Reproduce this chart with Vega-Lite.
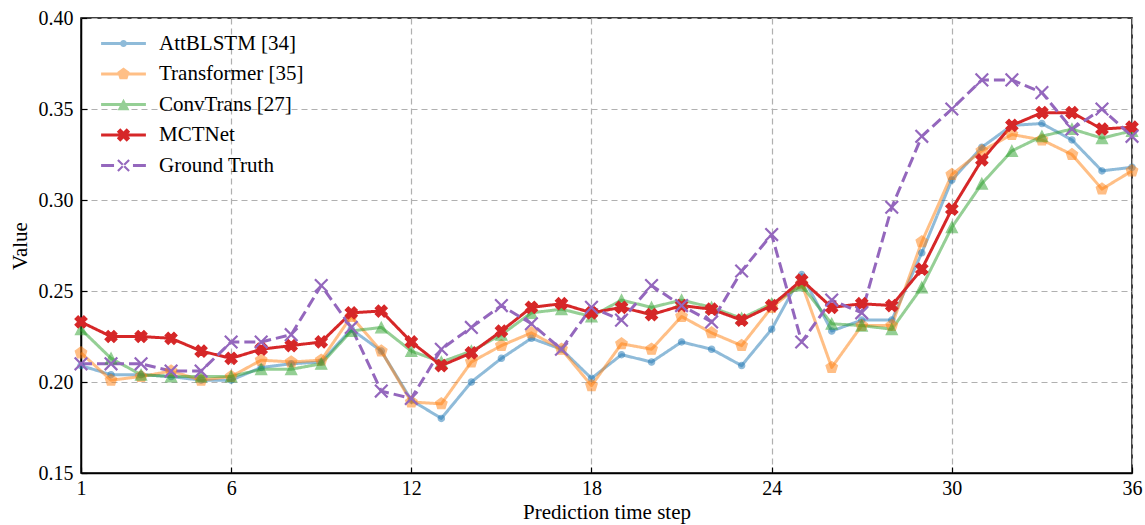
{
  "$schema": "https://vega.github.io/schema/vega-lite/v6.json",
  "width": 1051,
  "height": 455,
  "autosize": {"type": "none"},
  "padding": {"left": 81, "top": 18, "right": 13, "bottom": 52},
  "background": "white",
  "data": {
    "values": [
      {"step": 1, "AttBLSTM": 0.209, "Transformer": 0.216, "ConvTrans": 0.229, "MCTNet": 0.233, "GroundTruth": 0.210},
      {"step": 2, "AttBLSTM": 0.204, "Transformer": 0.201, "ConvTrans": 0.213, "MCTNet": 0.225, "GroundTruth": 0.210},
      {"step": 3, "AttBLSTM": 0.204, "Transformer": 0.203, "ConvTrans": 0.204, "MCTNet": 0.225, "GroundTruth": 0.210},
      {"step": 4, "AttBLSTM": 0.203, "Transformer": 0.206, "ConvTrans": 0.203, "MCTNet": 0.224, "GroundTruth": 0.206},
      {"step": 5, "AttBLSTM": 0.201, "Transformer": 0.201, "ConvTrans": 0.203, "MCTNet": 0.217, "GroundTruth": 0.206},
      {"step": 6, "AttBLSTM": 0.201, "Transformer": 0.203, "ConvTrans": 0.203, "MCTNet": 0.213, "GroundTruth": 0.222},
      {"step": 7, "AttBLSTM": 0.208, "Transformer": 0.212, "ConvTrans": 0.207, "MCTNet": 0.218, "GroundTruth": 0.222},
      {"step": 8, "AttBLSTM": 0.210, "Transformer": 0.211, "ConvTrans": 0.207, "MCTNet": 0.220, "GroundTruth": 0.226},
      {"step": 9, "AttBLSTM": 0.211, "Transformer": 0.212, "ConvTrans": 0.210, "MCTNet": 0.222, "GroundTruth": 0.253},
      {"step": 10, "AttBLSTM": 0.229, "Transformer": 0.236, "ConvTrans": 0.228, "MCTNet": 0.238, "GroundTruth": 0.230},
      {"step": 11, "AttBLSTM": 0.217, "Transformer": 0.217, "ConvTrans": 0.230, "MCTNet": 0.239, "GroundTruth": 0.195},
      {"step": 12, "AttBLSTM": 0.190, "Transformer": 0.189, "ConvTrans": 0.217, "MCTNet": 0.222, "GroundTruth": 0.191},
      {"step": 13, "AttBLSTM": 0.180, "Transformer": 0.188, "ConvTrans": 0.211, "MCTNet": 0.209, "GroundTruth": 0.218},
      {"step": 14, "AttBLSTM": 0.200, "Transformer": 0.211, "ConvTrans": 0.217, "MCTNet": 0.216, "GroundTruth": 0.230},
      {"step": 15, "AttBLSTM": 0.213, "Transformer": 0.220, "ConvTrans": 0.226, "MCTNet": 0.228, "GroundTruth": 0.242},
      {"step": 16, "AttBLSTM": 0.224, "Transformer": 0.227, "ConvTrans": 0.238, "MCTNet": 0.241, "GroundTruth": 0.232},
      {"step": 17, "AttBLSTM": 0.218, "Transformer": 0.218, "ConvTrans": 0.240, "MCTNet": 0.243, "GroundTruth": 0.218},
      {"step": 18, "AttBLSTM": 0.202, "Transformer": 0.198, "ConvTrans": 0.236, "MCTNet": 0.238, "GroundTruth": 0.241},
      {"step": 19, "AttBLSTM": 0.215, "Transformer": 0.221, "ConvTrans": 0.245, "MCTNet": 0.241, "GroundTruth": 0.234},
      {"step": 20, "AttBLSTM": 0.211, "Transformer": 0.218, "ConvTrans": 0.241, "MCTNet": 0.237, "GroundTruth": 0.253},
      {"step": 21, "AttBLSTM": 0.222, "Transformer": 0.236, "ConvTrans": 0.245, "MCTNet": 0.242, "GroundTruth": 0.242},
      {"step": 22, "AttBLSTM": 0.218, "Transformer": 0.227, "ConvTrans": 0.241, "MCTNet": 0.240, "GroundTruth": 0.233},
      {"step": 23, "AttBLSTM": 0.209, "Transformer": 0.220, "ConvTrans": 0.235, "MCTNet": 0.234, "GroundTruth": 0.261},
      {"step": 24, "AttBLSTM": 0.229, "Transformer": 0.241, "ConvTrans": 0.243, "MCTNet": 0.242, "GroundTruth": 0.281},
      {"step": 25, "AttBLSTM": 0.259, "Transformer": 0.254, "ConvTrans": 0.253, "MCTNet": 0.256, "GroundTruth": 0.222},
      {"step": 26, "AttBLSTM": 0.228, "Transformer": 0.208, "ConvTrans": 0.232, "MCTNet": 0.241, "GroundTruth": 0.245},
      {"step": 27, "AttBLSTM": 0.234, "Transformer": 0.231, "ConvTrans": 0.231, "MCTNet": 0.243, "GroundTruth": 0.238},
      {"step": 28, "AttBLSTM": 0.234, "Transformer": 0.231, "ConvTrans": 0.229, "MCTNet": 0.242, "GroundTruth": 0.296},
      {"step": 29, "AttBLSTM": 0.271, "Transformer": 0.277, "ConvTrans": 0.252, "MCTNet": 0.262, "GroundTruth": 0.335},
      {"step": 30, "AttBLSTM": 0.311, "Transformer": 0.314, "ConvTrans": 0.285, "MCTNet": 0.295, "GroundTruth": 0.350},
      {"step": 31, "AttBLSTM": 0.329, "Transformer": 0.327, "ConvTrans": 0.309, "MCTNet": 0.322, "GroundTruth": 0.366},
      {"step": 32, "AttBLSTM": 0.341, "Transformer": 0.336, "ConvTrans": 0.327, "MCTNet": 0.341, "GroundTruth": 0.366},
      {"step": 33, "AttBLSTM": 0.342, "Transformer": 0.333, "ConvTrans": 0.335, "MCTNet": 0.348, "GroundTruth": 0.359},
      {"step": 34, "AttBLSTM": 0.333, "Transformer": 0.325, "ConvTrans": 0.339, "MCTNet": 0.348, "GroundTruth": 0.339},
      {"step": 35, "AttBLSTM": 0.316, "Transformer": 0.306, "ConvTrans": 0.334, "MCTNet": 0.339, "GroundTruth": 0.350},
      {"step": 36, "AttBLSTM": 0.318, "Transformer": 0.316, "ConvTrans": 0.338, "MCTNet": 0.340, "GroundTruth": 0.335}
    ]
  },
  "transform": [
    {"fold": ["AttBLSTM", "Transformer", "ConvTrans", "MCTNet", "GroundTruth"], "as": ["model", "value"]}
  ],
  "encoding": {
    "x": {
      "field": "step", "type": "quantitative",
      "scale": {"domain": [1, 36], "nice": false, "zero": false},
      "axis": {"values": [1, 6, 12, 18, 24, 30, 36], "title": "Prediction time step", "labelPadding": 11, "titlePadding": 3,
        "labelFont": "Liberation Serif", "titleFont": "Liberation Serif", "labelFontSize": 20, "titleFontSize": 21}
    },
    "y": {
      "field": "value", "type": "quantitative",
      "scale": {"domain": [0.15, 0.40], "nice": false, "zero": false},
      "axis": {"values": [0.15, 0.20, 0.25, 0.30, 0.35, 0.40], "format": ".2f", "title": "Value", "labelPadding": 14, "titlePadding": 8,
        "labelFont": "Liberation Serif", "titleFont": "Liberation Serif", "labelFontSize": 20, "titleFontSize": 21}
    }
  },
  "layer": [
    {
      "mark": {"type": "line", "strokeWidth": 3, "strokeCap": "butt", "strokeJoin": "round"},
      "encoding": {
        "color": {
          "field": "model", "type": "nominal",
          "scale": {"domain": ["AttBLSTM", "Transformer", "ConvTrans", "MCTNet", "GroundTruth"], "range": ["#1f77b4", "#ff7f0e", "#2ca02c", "#d62728", "#9467bd"]},
          "legend": {
            "title": null,
            "orient": "none",
            "legendX": 32,
            "legendY": 15,
            "padding": 0,
            "rowPadding": 8.5,
            "labelFont": "Liberation Serif",
            "labelFontSize": 21,
            "labelColor": "#000",
            "labelOffset": 25,
            "symbolSize": 196,
            "symbolStrokeWidth": 0,
            "symbolOpacity": 1,
            "labelExpr": "datum.label == 'AttBLSTM' ? 'AttBLSTM [34]' : datum.label == 'Transformer' ? 'Transformer [35]' : datum.label == 'ConvTrans' ? 'ConvTrans [27]' : datum.label == 'GroundTruth' ? 'Ground Truth' : datum.label"
          }
        },
        "strokeDash": {
          "field": "model", "type": "nominal", "legend": null,
          "scale": {"domain": ["AttBLSTM", "Transformer", "ConvTrans", "MCTNet", "GroundTruth"], "range": [[1, 0], [1, 0], [1, 0], [1, 0], [11, 5]]}
        },
        "opacity": {"condition": {"test": "datum.model == 'MCTNet' || datum.model == 'GroundTruth'", "value": 1}, "value": 0.5}
      }
    },
    {
      "transform": [{"filter": {"field": "model", "equal": "AttBLSTM"}}],
      "mark": {"type": "point", "size": 196, "filled": true, "shape": "M0.45,0A0.45,0.45,0,1,1,-0.45,0A0.45,0.45,0,1,1,0.45,0Z", "fill": "#1f77b4", "stroke": "#1f77b4", "strokeWidth": 1.2, "opacity": 0.5}
    },
    {
      "transform": [{"filter": {"field": "model", "equal": "Transformer"}}],
      "mark": {"type": "point", "size": 196, "filled": true, "shape": "M0,-0.86L0.82,-0.27L0.51,0.7L-0.51,0.7L-0.82,-0.27Z", "fill": "#ff7f0e", "stroke": "#ff7f0e", "strokeWidth": 1.2, "opacity": 0.5}
    },
    {
      "transform": [{"filter": {"field": "model", "equal": "ConvTrans"}}],
      "mark": {"type": "point", "size": 196, "filled": true, "shape": "M0,-0.78L0.8,0.78L-0.8,0.78Z", "fill": "#2ca02c", "stroke": "#2ca02c", "strokeWidth": 1.2, "opacity": 0.5}
    },
    {
      "transform": [{"filter": {"field": "model", "equal": "MCTNet"}}],
      "mark": {"type": "point", "size": 196, "filled": true, "shape": "M0.86,-0.41L0.45,0L0.86,0.41L0.41,0.86L0,0.45L-0.41,0.86L-0.86,0.41L-0.45,0L-0.86,-0.41L-0.41,-0.86L0,-0.45L0.41,-0.86Z", "fill": "#d62728", "stroke": "#d62728", "strokeWidth": 1.2, "opacity": 1}
    },
    {
      "transform": [{"filter": {"field": "model", "equal": "GroundTruth"}}],
      "mark": {"type": "point", "size": 196, "filled": false, "shape": "M-0.9,-0.9L0.9,0.9M-0.9,0.9L0.9,-0.9", "stroke": "#9467bd", "strokeWidth": 2.2, "opacity": 1}
    },
    {
      "mark": {"type": "point", "size": 196, "filled": true, "opacity": 0},
      "encoding": {
        "shape": {
          "field": "model", "type": "nominal", "legend": null,
          "scale": {"domain": ["AttBLSTM", "Transformer", "ConvTrans", "MCTNet", "GroundTruth"], "range": [
            "M-3.2,-0.21L3.2,-0.21L3.2,0.21L-3.2,0.21ZM0.5,0A0.5,0.5,0,1,1,-0.5,0A0.5,0.5,0,1,1,0.5,0Z",
            "M-3.2,-0.21L3.2,-0.21L3.2,0.21L-3.2,0.21ZM0,-0.93L0.88,-0.29L0.55,0.75L-0.55,0.75L-0.88,-0.29Z",
            "M-3.2,-0.21L3.2,-0.21L3.2,0.21L-3.2,0.21ZM0,-0.82L0.85,0.82L-0.85,0.82Z",
            "M-3.2,-0.21L3.2,-0.21L3.2,0.21L-3.2,0.21ZM0.955,-0.46L0.495,0L0.955,0.46L0.46,0.955L0,0.495L-0.46,0.955L-0.955,0.46L-0.495,0L-0.955,-0.46L-0.46,-0.955L0,-0.495L0.46,-0.955Z",
            "M-3.2,-0.21L-1.35,-0.21L-1.35,0.21L-3.2,0.21ZM1.35,-0.21L3.2,-0.21L3.2,0.21L1.35,0.21ZM-0.694,-0.906L0.906,0.694L0.694,0.906L-0.906,-0.694ZM-0.694,0.906L0.906,-0.694L0.694,-0.906L-0.906,0.694Z"
          ]}
        },
        "fill": {
          "field": "model", "type": "nominal", "legend": null,
          "scale": {"domain": ["AttBLSTM", "Transformer", "ConvTrans", "MCTNet", "GroundTruth"], "range": ["#8fbbd9", "#ffbf86", "#95cf95", "#d62728", "#9467bd"]}
        },
        "stroke": {
          "field": "model", "type": "nominal", "legend": null,
          "scale": {"domain": ["AttBLSTM", "Transformer", "ConvTrans", "MCTNet", "GroundTruth"], "range": ["#8fbbd9", "#ffbf86", "#95cf95", "#d62728", "#9467bd"]}
        }
      }
    }
  ],
  "config": {
    "view": {"stroke": "#000", "strokeWidth": 1.5},
    "font": "Liberation Serif",
    "style": {"guide-label": {"font": "Liberation Serif"}, "guide-title": {"font": "Liberation Serif"}},
    "axis": {
      "labelFont": "Liberation Serif", "titleFont": "Liberation Serif",
      "labelFontSize": 20, "titleFontSize": 21, "titleFontWeight": "normal",
      "labelColor": "#000", "titleColor": "#000",
      "domainColor": "#000", "domainWidth": 1.5,
      "tickColor": "#000", "tickWidth": 1.2, "tickSize": -6,
      "gridColor": "#b0b0b0", "gridDash": [6, 4], "gridWidth": 1.2,
      "labelFlush": false
    }
  }
}
